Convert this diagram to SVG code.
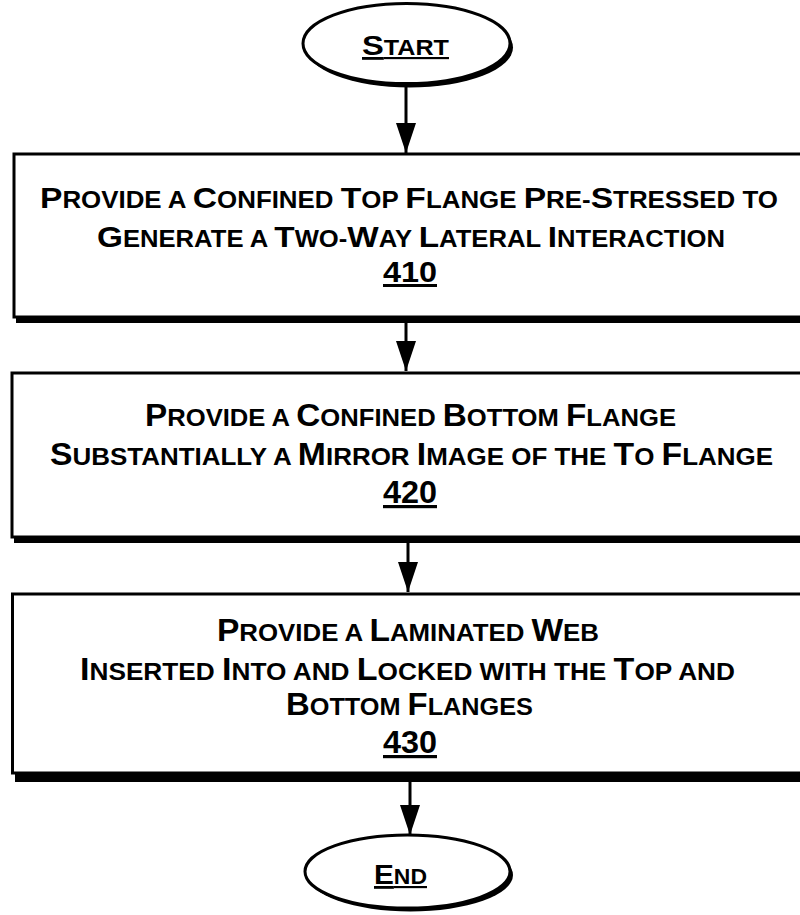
<svg xmlns="http://www.w3.org/2000/svg" width="800" height="915" viewBox="0 0 800 915">
<style>
.box{fill:#fff;stroke:#000;stroke-width:3}
.sh{fill:#000}
.t{font-family:"Liberation Sans",Arial,sans-serif;font-weight:bold;fill:#000;text-anchor:middle}
.b1{font-size:30px}
.b2{font-size:32px}
.s{font-size:0.77em}
.u{text-decoration:underline}
.cn{stroke:#000;stroke-width:3;fill:none;marker-end:url(#ah)}
</style>
<defs>
<marker id="ah" markerUnits="userSpaceOnUse" markerWidth="30" markerHeight="20" refX="30" refY="10" orient="auto">
<path d="M0,0 L30,10 L0,20 Z" fill="#000"/>
</marker>
</defs>
<g id="connectors">
<line class="cn" x1="406" y1="86" x2="406" y2="153"/>
<line class="cn" x1="406" y1="323" x2="406" y2="371"/>
<line class="cn" x1="408" y1="543" x2="408" y2="592"/>
<line class="cn" x1="410" y1="782" x2="410" y2="835"/>
</g>
<g id="start">
<ellipse class="sh" cx="409.5" cy="47.5" rx="103.5" ry="40"/>
<ellipse class="box" cx="406.5" cy="43.5" rx="103.5" ry="40"/>
<text class="t u" x="405.5" y="55" font-size="28" textLength="87" lengthAdjust="spacingAndGlyphs">S<tspan class="s">TART</tspan></text>
</g>
<g id="n410">
<rect class="sh" x="16" y="158" width="800" height="165"/>
<rect class="box" x="14" y="154" width="800" height="163"/>
<text class="t b1" x="409" y="208" textLength="738" lengthAdjust="spacingAndGlyphs">P<tspan class="s">ROVIDE A </tspan>C<tspan class="s">ONFINED </tspan>T<tspan class="s">OP </tspan>F<tspan class="s">LANGE </tspan>P<tspan class="s">RE-</tspan>S<tspan class="s">TRESSED TO</tspan></text>
<text class="t b1" x="411" y="247" textLength="628" lengthAdjust="spacingAndGlyphs">G<tspan class="s">ENERATE A </tspan>T<tspan class="s">WO-</tspan>W<tspan class="s">AY </tspan>L<tspan class="s">ATERAL </tspan>I<tspan class="s">NTERACTION</tspan></text>
<text class="t b1 u" x="410" y="282" textLength="54" lengthAdjust="spacingAndGlyphs">410</text>
</g>
<g id="n420">
<rect class="sh" x="14" y="377" width="800" height="166"/>
<rect class="box" x="12" y="373" width="800" height="164"/>
<text class="t b2" x="410.5" y="426" textLength="531" lengthAdjust="spacingAndGlyphs">P<tspan class="s">ROVIDE A </tspan>C<tspan class="s">ONFINED </tspan>B<tspan class="s">OTTOM </tspan>F<tspan class="s">LANGE</tspan></text>
<text class="t b2" x="411.5" y="465" textLength="723" lengthAdjust="spacingAndGlyphs">S<tspan class="s">UBSTANTIALLY A </tspan>M<tspan class="s">IRROR </tspan>I<tspan class="s">MAGE OF THE </tspan>T<tspan class="s">O </tspan>F<tspan class="s">LANGE</tspan></text>
<text class="t b2 u" x="410" y="503" textLength="54" lengthAdjust="spacingAndGlyphs">420</text>
</g>
<g id="n430">
<rect class="sh" x="15" y="598" width="800" height="184"/>
<rect class="box" x="12.5" y="594" width="800" height="179"/>
<text class="t b2" x="408" y="641" textLength="382" lengthAdjust="spacingAndGlyphs">P<tspan class="s">ROVIDE A </tspan>L<tspan class="s">AMINATED </tspan>W<tspan class="s">EB</tspan></text>
<text class="t b2" x="407.5" y="680" textLength="655" lengthAdjust="spacingAndGlyphs">I<tspan class="s">NSERTED </tspan>I<tspan class="s">NTO AND </tspan>L<tspan class="s">OCKED WITH THE </tspan>T<tspan class="s">OP AND</tspan></text>
<text class="t b2" x="409.5" y="715" textLength="247" lengthAdjust="spacingAndGlyphs">B<tspan class="s">OTTOM </tspan>F<tspan class="s">LANGES</tspan></text>
<text class="t b2 u" x="410" y="753" textLength="54" lengthAdjust="spacingAndGlyphs">430</text>
</g>
<g id="end">
<ellipse class="sh" cx="410.5" cy="875" rx="102.5" ry="36.5"/>
<ellipse class="box" cx="407.5" cy="871.5" rx="102.5" ry="36.5"/>
<text class="t u" x="400.5" y="884" font-size="28" textLength="53" lengthAdjust="spacingAndGlyphs">E<tspan class="s">ND</tspan></text>
</g>
</svg>
